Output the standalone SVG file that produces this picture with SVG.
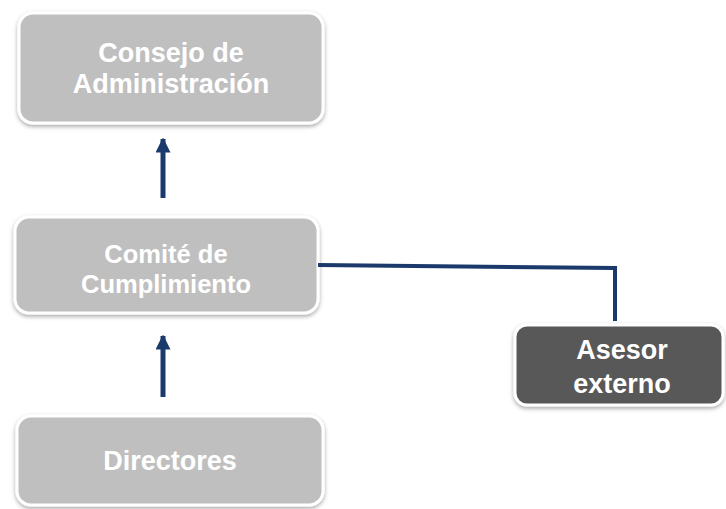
<svg xmlns="http://www.w3.org/2000/svg" width="726" height="509" viewBox="0 0 726 509">
  <defs>
    <filter id="sh" x="-10%" y="-10%" width="120%" height="130%">
      <feDropShadow dx="0" dy="2" stdDeviation="2" flood-color="#000" flood-opacity="0.35"/>
    </filter>
    <marker id="ah" viewBox="0 0 10 10" refX="9" refY="5" markerWidth="3" markerHeight="3" orient="auto" markerUnits="strokeWidth">
      <path d="M0,0 L10,5 L0,10 z" fill="#1b3a6b"/>
    </marker>
  </defs>
  <style>
    .box { fill: #bfbfbf; stroke: #ffffff; stroke-width: 3; filter: url(#sh); }
    .dark { fill: #595959; stroke: #ffffff; stroke-width: 3; filter: url(#sh); }
    .t { font-family: "Liberation Sans", Arial, sans-serif; font-weight: bold; fill: #ffffff; text-anchor: middle; font-size: 27px; }
    .c { stroke: #1b3a6b; stroke-width: 4; fill: none; }
    .a { stroke: #1b3a6b; stroke-width: 5; fill: none; }
  </style>
  <rect width="726" height="509" fill="#ffffff"/>
  <g id="consejo">
    <rect class="box" x="19" y="13" width="304" height="110" rx="14"/>
    <text class="t" x="171" y="62">Consejo de</text>
    <text class="t" x="171" y="93">Administración</text>
  </g>
  <g id="comite">
    <rect class="box" x="15" y="217" width="303" height="96" rx="14"/>
    <text class="t" x="166" y="263" style="font-size:25.5px">Comité de</text>
    <text class="t" x="166" y="293" style="font-size:25.5px">Cumplimiento</text>
  </g>
  <g id="directores">
    <rect class="box" x="17" y="416" width="306" height="89" rx="14"/>
    <text class="t" x="170" y="470">Directores</text>
  </g>
  <g id="asesor">
    <rect class="dark" x="515" y="325" width="208" height="80" rx="12"/>
    <text class="t" x="622" y="359">Asesor</text>
    <text class="t" x="622" y="393">externo</text>
  </g>
  <g id="connectors">
    <line class="a" x1="163" y1="198" x2="163" y2="139" marker-end="url(#ah)"/>
    <line class="a" x1="163" y1="397" x2="163" y2="336" marker-end="url(#ah)"/>
    <polyline class="c" points="318,265 615,268 615,321"/>
  </g>
</svg>
